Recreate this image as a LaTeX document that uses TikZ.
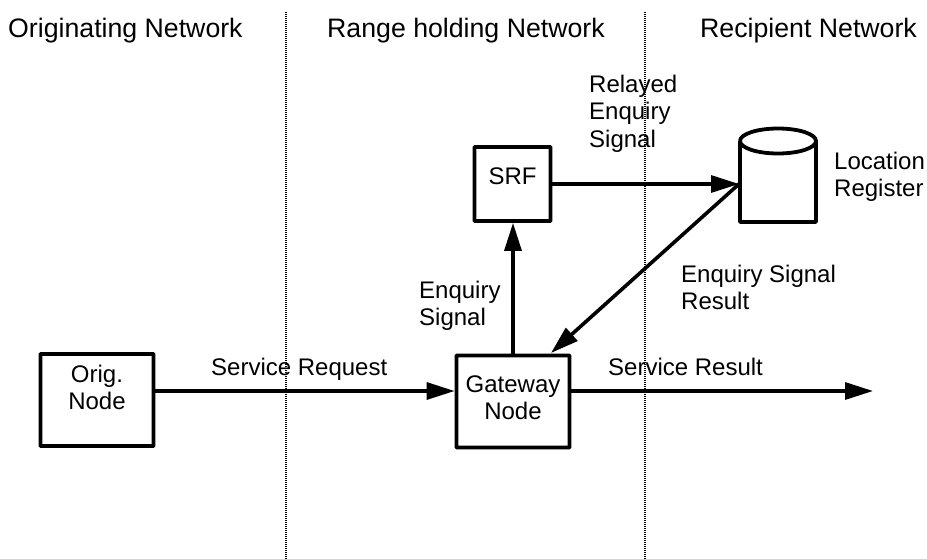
\documentclass[tikz,border=0pt]{standalone}
\usepackage{fontspec}
\setmainfont{Liberation Sans}
\usetikzlibrary{arrows.meta,calc}
\tikzset{
  x=1pt,y=-1pt,
  boxnode/.style={draw=black,line width=3.8pt,fill=white,rounded corners=0.5pt,inner sep=0pt},
  boxtext/.style={inner sep=0pt,align=center,font=\fontsize{24pt}{27pt}\selectfont},
  lab/.style={inner sep=0pt,align=left,anchor=north west,font=\fontsize{24pt}{27.3pt}\selectfont},
  head/.style={inner sep=0pt,align=left,anchor=north west,font=\fontsize{26.7pt}{30pt}\selectfont},
  conn/.style={line width=3.2pt,-{Triangle[length=28pt,width=17pt]}},
  divider/.style={line width=2pt,dash pattern=on 1pt off 1pt},
  cyl/.style={line width=3.8pt}
}
\begin{document}
\begin{tikzpicture}
\useasboundingbox (0,0) rectangle (927,559);
\coordinate (d1a) at (286,12); \coordinate (d1b) at (286,559);
\coordinate (d2a) at (645,12); \coordinate (d2b) at (645,559);
\draw[divider] (d1a)--(d1b);
\draw[divider] (d2a)--(d2b);
\node[head] (h1) at (8,18) {Originating Network};
\node[head] (h2) at (327,18) {Range holding Network};
\node[head] (h3) at (700,18) {Recipient Network};
\node[boxnode,minimum width=113pt,minimum height=92pt] (orig) at (97,400) {};
\node[boxtext] (origt) at (97,387) {Orig.\\Node};
\node[boxnode,minimum width=113pt,minimum height=92pt] (gw) at (513,401.5) {};
\node[boxtext] (gwt) at (513,397.5) {Gateway\\Node};
\node[boxnode,minimum width=76pt,minimum height=74pt] (srf) at (512.5,184) {};
\node[boxtext] (srft) at (512.5,176) {SRF};
% cylinder
\draw[cyl,fill=white] (740,141) arc[x radius=38,y radius=12.5,start angle=180,end angle=-180];
\draw[cyl,line join=round] (740,141)--(740,222)--(816,222)--(816,141);
\coordinate (reg) at (739,184);
\coordinate (fr) at (873,391);
\coordinate (srfb) at (gw.north|-srf.south);
\draw[conn] (orig.east|-0,391) -- (gw.west|-0,391);
\draw[conn] (gw.east|-0,391) -- (fr);
\draw[conn] (gw.north) -- (srfb);
\draw[conn] (srf.east|-0,184) -- (reg);
\draw[conn,line width=3.6pt] (reg) -- (551,353);
\node[lab] (l1) at (211,358) {Service Request};
\node[lab] (l2) at (608,358) {Service Result};
\node[lab] (l3) at (419,281) {Enquiry\\Signal};
\node[lab] (l4) at (589,75) {Relayed\\Enquiry\\Signal};
\node[lab] (l5) at (681,265) {Enquiry Signal\\Result};
\node[lab] (l6) at (834,152) {Location\\Register};
\end{tikzpicture}
\end{document}
